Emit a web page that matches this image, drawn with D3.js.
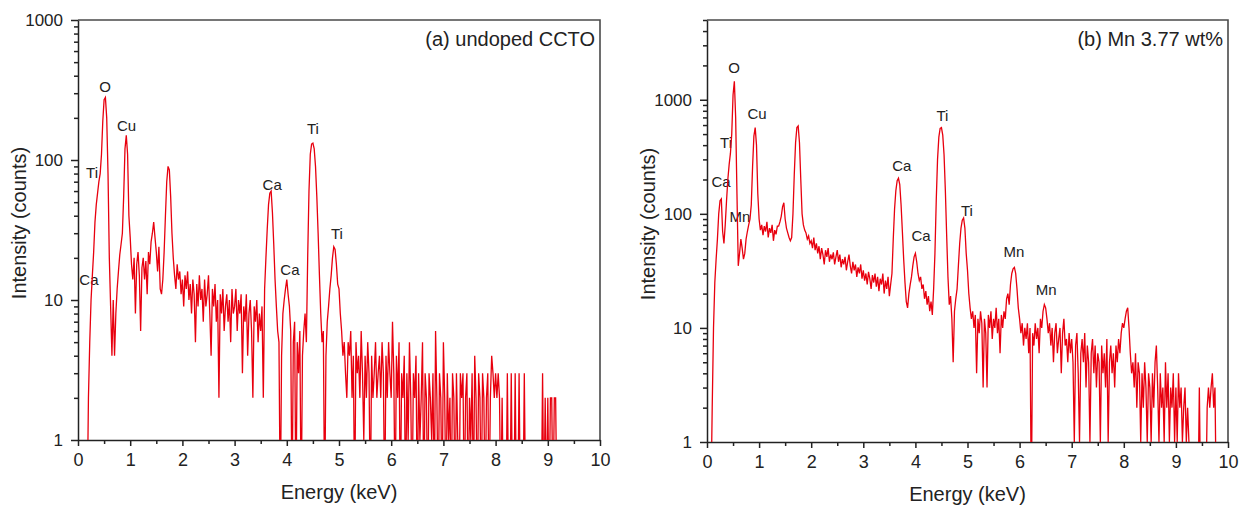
<!DOCTYPE html>
<html>
<head>
<meta charset="utf-8">
<script src="https://cdn.jsdelivr.net/npm/d3@7"></script>
<style>
  body { margin: 0; background: #fff; }
  svg text { font-family: "Liberation Sans", Arial, sans-serif; fill: #222; }
  .spec { fill: none; stroke: #e8000e; stroke-width: 1.3; stroke-linejoin: miter; }
  .frame { fill: none; stroke: #4a4a4a; stroke-width: 1.6; }
  .axis path, .axis line { stroke: #222; stroke-width: 1.5; }
</style>
</head>
<body>
<script>
var w = 1242;
var h = 506;

// channel width of the spectra, keV (first channel at 0 keV)
var energyStep = 0.025;

// (a) undoped CCTO, counts per channel, one row per keV
var countsA = [
  0,0,0,0,0,0,0,0,2,5,10,15,22,36,48,58,70,80,110,190,270,280,200,80,20,9,4,10,4,8,12,16,21,25,30,55,120,150,110,40,
  28,18,14,20,8,18,22,15,6,17,20,14,19,11,22,18,26,30,36,28,22,16,24,12,11,14,22,40,70,90,85,55,30,20,15,12,18,14,16,11,
  14,9,15,12,16,10,13,8,14,11,5,13,9,15,10,12,7,14,9,11,15,8,4,12,9,13,7,10,2,11,8,12,6,9,11,7,10,5,12,8,
  9,12,6,10,8,11,3,9,7,11,4,8,10,6,2,9,7,10,5,8,6,9,2,12,20,32,48,58,60,42,25,14,9,6,5,0,4,8,10,12,
  14,11,9,6,0,5,7,0,5,3,6,0,4,6,8,5,20,60,110,130,132,120,90,55,30,15,8,5,6,0,4,7,9,12,15,20,24,23,18,13,
  12,8,6,4,5,3,2,5,4,6,2,4,0,5,3,4,2,6,3,1,4,2,5,3,0,4,2,3,5,2,3,4,2,5,3,0,4,2,5,3,
  2,7,3,0,4,2,5,0,3,2,4,0,3,1,5,2,0,3,2,4,0,3,1,2,5,0,3,2,0,3,2,1,3,0,6,2,0,3,2,0,
  5,2,0,3,1,2,0,3,2,0,3,1,0,3,2,3,0,2,3,0,2,1,3,0,4,2,0,3,2,0,3,2,0,2,3,0,2,4,3,2,
  3,2,3,2,0,2,0,0,0,3,0,0,3,0,0,3,0,0,3,0,0,0,3,0,0,0,0,0,0,0,0,0,0,0,0,0,3,0,2,0,
  2,0,2,2,0,2,2,0,0
];

// (b) Mn 3.77 wt%, counts per channel, one row per keV
var countsB = [
  0,0,0,0,2,10,25,40,60,100,130,135,70,55,80,130,200,270,340,500,1100,1450,700,150,35,45,60,50,40,45,60,70,80,90,120,260,480,570,400,150,
  90,72,80,65,78,70,85,62,75,68,80,58,72,66,78,78,85,95,115,125,90,75,68,62,58,62,100,220,420,570,590,420,200,100,80,72,68,60,64,55,
  58,50,62,48,55,45,52,40,50,44,36,48,42,50,38,44,40,46,36,42,48,38,44,34,40,36,42,32,38,44,35,30,38,32,36,28,34,30,36,27,
  32,26,30,24,31,27,22,29,25,30,23,28,21,27,24,30,20,26,22,28,19,24,30,60,110,160,195,205,180,120,70,40,25,17,15,20,24,28,35,42,
  45,38,30,26,28,22,24,18,21,16,19,14,17,13,22,45,130,300,470,560,570,490,330,160,65,28,16,19,12,5,14,18,22,35,55,75,88,92,75,45,
  32,20,15,12,14,10,13,4,12,9,14,11,3,12,9,3,13,10,14,8,12,10,15,9,12,6,13,10,14,12,18,20,16,24,30,33,34,30,22,15,
  12,9,11,7,10,8,11,6,10,0,9,7,11,8,10,6,12,10,14,16,15,12,9,11,7,10,5,9,11,6,8,10,4,9,12,7,8,5,9,6,
  8,5,1,7,9,4,1,6,8,5,9,3,7,5,1,6,8,4,7,3,6,5,1,7,4,6,3,8,1,5,7,4,6,3,7,5,8,6,9,11,
  10,12,14,15,10,6,4,5,3,6,2,5,4,1,4,2,5,3,1,4,3,1,4,2,5,7,3,1,4,2,3,1,5,2,4,1,3,2,4,1,
  3,1,4,2,3,1,2,3,1,2,1,0,0,0,0,0,0,0,3,0,0,0,0,0,2,3,2,3,4,2,3,0
];

var xTickValues = [0, 1, 2, 3, 4, 5, 6, 7, 8, 9, 10];
var xMinorValues = [0.5, 1.5, 2.5, 3.5, 4.5, 5.5, 6.5, 7.5, 8.5, 9.5];
var yTicksA = [1, 10, 100, 1000];
var yTicksB = [1, 10, 100, 1000];
var yMaxA = 1000;
var yMaxB = 5000;

var titleA = "(a) undoped CCTO";
var titleB = "(b) Mn 3.77 wt%";
var xLabel = "Energy (keV)";
var yLabel = "Intensity (counts)";

// peak labels: element, energy (keV) and count level of the label centre
var peakNamesA = ["O", "Cu", "Ti", "Ca", "Ca", "Ti", "Ca", "Ti"];
var peakEnergyA = [0.52, 0.93, 0.27, 0.21, 3.72, 4.50, 4.06, 4.96];
var peakLevelA = [333, 175, 82, 14, 67, 169, 16.6, 30];

var peakNamesB = ["O", "Cu", "Ti", "Ca", "Mn", "Ca", "Ca", "Ti", "Ti", "Mn", "Mn"];
var peakEnergyB = [0.52, 0.96, 0.365, 0.27, 0.63, 3.74, 4.11, 4.52, 4.99, 5.89, 6.51];
var peakLevelB = [1910, 754, 420, 191, 94, 264, 64, 722, 106, 46.4, 21.5];

var svg = d3.select("body")
    .append("svg")
    .attr("width", w)
    .attr("height", h);

svg.append("rect")
    .attr("width", w)
    .attr("height", h)
    .attr("fill", "#fff");

function minorLogTicks(top) {
  var out = [];
  for (var d = 1; d < top; d *= 10) {
    for (var k = 2; k <= 9; k++) {
      if (d * k <= top) out.push(d * k);
    }
  }
  return out;
}

function make(p) {
  var x = d3.scaleLinear()
      .domain([0, 10])
      .range([p.left, p.right]);

  var y = d3.scaleLog()
      .domain([1, p.yMax])
      .range([p.bottom, p.top]);

  var g = svg.append("g");

  // top and right border of the frame
  g.append("path")
      .attr("class", "frame")
      .attr("d", "M" + p.left + "," + p.top + "H" + p.right + "V" + p.bottom);

  // minor ticks
  g.append("g")
      .attr("class", "axis")
      .attr("transform", "translate(0," + p.bottom + ")")
      .call(d3.axisBottom(x).tickValues(xMinorValues).tickSize(4).tickSizeOuter(0).tickFormat(""))
      .select(".domain").remove();

  g.append("g")
      .attr("class", "axis")
      .attr("transform", "translate(" + p.left + ",0)")
      .call(d3.axisLeft(y).tickValues(minorLogTicks(p.yMax)).tickSize(4).tickSizeOuter(0).tickFormat(""))
      .select(".domain").remove();

  // major ticks + axis lines
  var xa = g.append("g")
      .attr("class", "axis")
      .attr("transform", "translate(0," + p.bottom + ")")
      .call(d3.axisBottom(x).tickValues(xTickValues).tickSize(6).tickSizeOuter(0).tickPadding(7));
  xa.selectAll("text")
      .attr("font-size", 18)
      .attr("fill", "#222");

  var ya = g.append("g")
      .attr("class", "axis")
      .attr("transform", "translate(" + p.left + ",0)")
      .call(d3.axisLeft(y).tickValues(p.yTicks).tickFormat(d3.format("d")).tickSize(7).tickPadding(8).tickSizeOuter(0));
  ya.selectAll("text")
      .attr("font-size", 17)
      .attr("fill", "#222");
  xa.attr("font-family", null);
  ya.attr("font-family", null);

  // axis titles
  g.append("text")
      .attr("text-anchor", "middle")
      .attr("font-size", 20)
      .attr("x", (p.left + p.right) / 2)
      .attr("y", p.bottom + 59)
      .text(xLabel);

  g.append("text")
      .attr("text-anchor", "middle")
      .attr("font-size", 20)
      .attr("transform", "translate(" + (p.left - 52) + "," + ((p.top + p.bottom) / 2 - 7) + ") rotate(-90)")
      .text(yLabel);

  g.append("text")
      .attr("text-anchor", "end")
      .attr("font-size", 20)
      .attr("x", p.right - 5)
      .attr("y", p.top + 26)
      .text(p.title);

  // peak labels
  g.selectAll(".peak")
      .data(p.names)
      .enter()
      .append("text")
      .attr("class", "peak")
      .attr("text-anchor", "middle")
      .attr("dominant-baseline", "central")
      .attr("font-size", 15)
      .attr("x", function(d, i) { return x(p.energy[i]); })
      .attr("y", function(d, i) { return y(p.level[i]); })
      .text(function(d) { return d; });

  // spectrum, zero counts fall below the axis and get clipped
  g.append("clipPath")
      .attr("id", p.id)
      .append("rect")
      .attr("x", p.left)
      .attr("y", p.top)
      .attr("width", p.right - p.left)
      .attr("height", p.bottom - p.top);

  var line = d3.line()
      .x(function(d, i) { return x(i * energyStep); })
      .y(function(d) { return y(Math.max(d, 0.3)); });

  g.append("path")
      .datum(p.counts)
      .attr("class", "spec")
      .attr("clip-path", "url(#" + p.id + ")")
      .attr("d", line);
}

make({ id: "clipA", left: 78, right: 600, top: 20, bottom: 440, yMax: yMaxA, yTicks: yTicksA,
       counts: countsA, title: titleA, names: peakNamesA, energy: peakEnergyA, level: peakLevelA });

make({ id: "clipB", left: 707, right: 1228, top: 20, bottom: 442, yMax: yMaxB, yTicks: yTicksB,
       counts: countsB, title: titleB, names: peakNamesB, energy: peakEnergyB, level: peakLevelB });
</script>
</body>
</html>
